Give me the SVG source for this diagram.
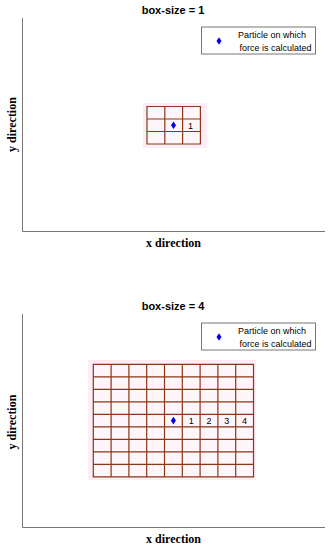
<svg xmlns="http://www.w3.org/2000/svg" width="331" height="550" viewBox="0 0 331 550">
<defs>
<style>
.title{font-family:"Liberation Sans",Arial,sans-serif;font-weight:bold;font-size:11px;fill:#000;text-anchor:middle}
.ax{font-family:"Liberation Serif","Times New Roman",serif;font-weight:bold;font-size:12px;fill:#000;text-anchor:middle}
.leg{font-family:"Liberation Sans",Arial,sans-serif;font-size:9px;fill:#000}
.num{font-family:"Liberation Sans",Arial,sans-serif;font-size:9px;fill:#000;text-anchor:middle}
.axis{stroke:#777;stroke-width:1;fill:none}
.legbox{fill:#fff;stroke:#777;stroke-width:1}
.halo{fill:#fdedf7}
.cellbg{fill:#fff6fb}
.grid{stroke:#8c3614;stroke-width:1.2;fill:none}
.dia{fill:#0000dd}
</style>
<path id="diamond" d="M0,-3.8 L2.5,0 L0,3.8 L-2.5,0 Z"/>
</defs>
<rect width="331" height="550" fill="#fff"/>

<g id="panel1">
<text class="title" x="173" y="14">box-size = 1</text>
<g id="axes1">
<path class="axis" d="M22.5,18 V231.5 H325"/>
</g>
<text class="ax" transform="translate(16,124.5) rotate(-90)">y direction</text>
<text class="ax" x="173.5" y="247">x direction</text>
<g id="legend1">
<rect class="legbox" x="201.5" y="27" width="114" height="27"/>
<use href="#diamond" class="dia" x="219" y="41"/>
<text class="leg" x="238" y="37.5">Particle on which</text>
<text class="leg" x="239.5" y="50.5">force is calculated</text>
</g>
<g id="grid1">
<rect class="halo" x="143" y="103" width="64" height="45"/>
<rect class="cellbg" x="147" y="106.5" width="53.4" height="37.5"/>
<path class="grid" d="M147,106.5 H200.4 V144 H147 Z M164.8,106.5 V144 M182.6,106.5 V144 M147,119 H200.4 M147,131.5 H200.4"/>
<use href="#diamond" class="dia" x="173.5" y="125.2"/>
<text class="num" x="190.5" y="128.5">1</text>
</g>
</g>

<g id="panel2">
<text class="title" x="173" y="310">box-size = 4</text>
<g id="axes2">
<path class="axis" d="M22.5,314 V527.5 H325"/>
</g>
<text class="ax" transform="translate(16,422) rotate(-90)">y direction</text>
<text class="ax" x="173.5" y="543">x direction</text>
<g id="legend2">
<rect class="legbox" x="201.5" y="323" width="114" height="27"/>
<use href="#diamond" class="dia" x="219" y="337"/>
<text class="leg" x="238" y="333.5">Particle on which</text>
<text class="leg" x="239.5" y="346.5">force is calculated</text>
</g>
<g id="grid2">
<rect class="halo" x="88" y="360" width="168" height="120"/>
<rect class="cellbg" x="93.3" y="364.3" width="160.2" height="112.5"/>
<path class="grid" d="M93.3,364.3 H253.5 V476.8 H93.3 Z
M111.1,364.3 V476.8 M128.9,364.3 V476.8 M146.7,364.3 V476.8 M164.5,364.3 V476.8 M182.3,364.3 V476.8 M200.1,364.3 V476.8 M217.9,364.3 V476.8 M235.7,364.3 V476.8
M93.3,376.8 H253.5 M93.3,389.3 H253.5 M93.3,401.8 H253.5 M93.3,414.3 H253.5 M93.3,426.8 H253.5 M93.3,439.3 H253.5 M93.3,451.8 H253.5 M93.3,464.3 H253.5"/>
<use href="#diamond" class="dia" x="173.4" y="420.6"/>
<text class="num" x="191.2" y="424">1</text>
<text class="num" x="209" y="424">2</text>
<text class="num" x="226.8" y="424">3</text>
<text class="num" x="244.6" y="424">4</text>
</g>
</g>
</svg>
